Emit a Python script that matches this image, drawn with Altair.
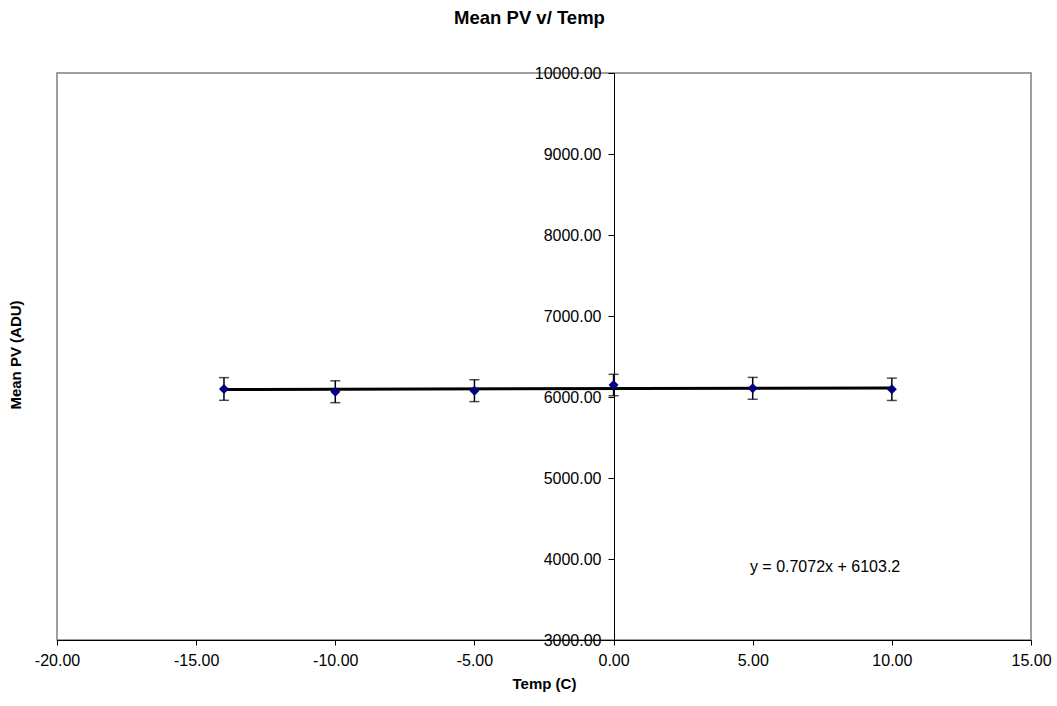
import altair as alt
import pandas as pd

temps = [-14, -10, -5, 0, 5, 10]
mean_pv = [6099, 6065, 6078, 6148, 6107, 6095]
err = [140, 135, 135, 132, 135, 138]
trend_x = [-14, 10]
trend_y = [6093.3, 6110.3]
x_ticks = [-20, -15, -10, -5, 0, 5, 10, 15]
y_ticks = [3000, 4000, 5000, 6000, 7000, 8000, 9000, 10000]
eq_text = "y = 0.7072x + 6103.2"
eq_pos = (7.6, 3900)

FONT = "Liberation Sans"

df = pd.DataFrame({"t": temps, "pv": mean_pv,
                   "lo": [m - e for m, e in zip(mean_pv, err)],
                   "hi": [m + e for m, e in zip(mean_pv, err)]})
trend = pd.DataFrame({"t": trend_x, "pv": trend_y})
eq = pd.DataFrame({"t": [eq_pos[0]], "pv": [eq_pos[1]], "label": [eq_text]})
one = pd.DataFrame({"a": [0]})

xscale = alt.Scale(domain=[-20, 15], nice=False, zero=False)
yscale = alt.Scale(domain=[3000, 10000], nice=False, zero=False)

hyphen_fmt = "(datum.value < 0 ? '-' : '') + format(abs(datum.value), '.2f')"

x_axis = alt.Axis(values=x_ticks, labelExpr=hyphen_fmt, grid=False, domainColor="black",
                  tickColor="black", tickSize=5, labelPadding=7, labelFontSize=16,
                  labelFont=FONT, labelColor="black", title="Temp (C)",
                  titleFont=FONT, titleFontSize=15, titleFontWeight="bold",
                  titleColor="black", titlePadding=8, labelFlush=False)
y_axis_left = alt.Axis(values=y_ticks, format=".2f", grid=False, orient="left",
                       offset=-557, domainColor="black", tickColor="black",
                       tickSize=6, labelPadding=7, labelFontSize=16, labelFont=FONT,
                       labelColor="black", title=None, labelFlush=False)

trend_line = alt.Chart(trend).mark_line(color="black", strokeWidth=3).encode(
    x=alt.X("t:Q", scale=xscale, axis=x_axis),
    y=alt.Y("pv:Q", scale=yscale, axis=y_axis_left),
)
bars = alt.Chart(df).mark_rule(color="black", strokeWidth=1.5).encode(
    x=alt.X("t:Q", scale=xscale, axis=None),
    y=alt.Y("lo:Q", scale=yscale, axis=None),
    y2="hi:Q",
)
cap_lo = alt.Chart(df).mark_tick(color="black", thickness=1.5, size=10, orient="horizontal").encode(
    x=alt.X("t:Q", scale=xscale, axis=None),
    y=alt.Y("lo:Q", scale=yscale, axis=None),
)
cap_hi = alt.Chart(df).mark_tick(color="black", thickness=1.5, size=10, orient="horizontal").encode(
    x=alt.X("t:Q", scale=xscale, axis=None),
    y=alt.Y("hi:Q", scale=yscale, axis=None),
)
pts = alt.Chart(df).mark_point(shape="diamond", filled=True, color="#000080",
                               size=100, opacity=1).encode(
    x=alt.X("t:Q", scale=xscale, axis=None),
    y=alt.Y("pv:Q", scale=yscale, axis=None),
)
eq_txt = alt.Chart(eq).mark_text(font=FONT, fontSize=16, color="black").encode(
    x=alt.X("t:Q", scale=xscale, axis=None),
    y=alt.Y("pv:Q", scale=yscale, axis=None),
    text="label:N",
)
title_txt = alt.Chart(one).mark_text(font=FONT, fontSize=18.5, fontWeight="bold",
                                     color="black").encode(
    x=alt.value(472.5), y=alt.value(-55), text=alt.value("Mean PV v/ Temp"))
ytitle_txt = alt.Chart(one).mark_text(font=FONT, fontSize=15, fontWeight="bold",
                                      color="black", angle=270).encode(
    x=alt.value(-41), y=alt.value(282), text=alt.value("Mean PV (ADU)"))

chart = alt.layer(trend_line, bars, cap_lo, cap_hi, pts, eq_txt,
                  title_txt, ytitle_txt).resolve_axis(
    x="independent", y="independent").properties(
    width=974, height=567,
    autosize=alt.AutoSizeParams(type="none"),
    padding={"left": 57, "top": 73, "right": 26, "bottom": 66},
    background="white",
).configure_view(stroke="#808080", strokeWidth=1.5)

chart.save("out.html", embed_options={"renderer": "svg", "actions": False})
